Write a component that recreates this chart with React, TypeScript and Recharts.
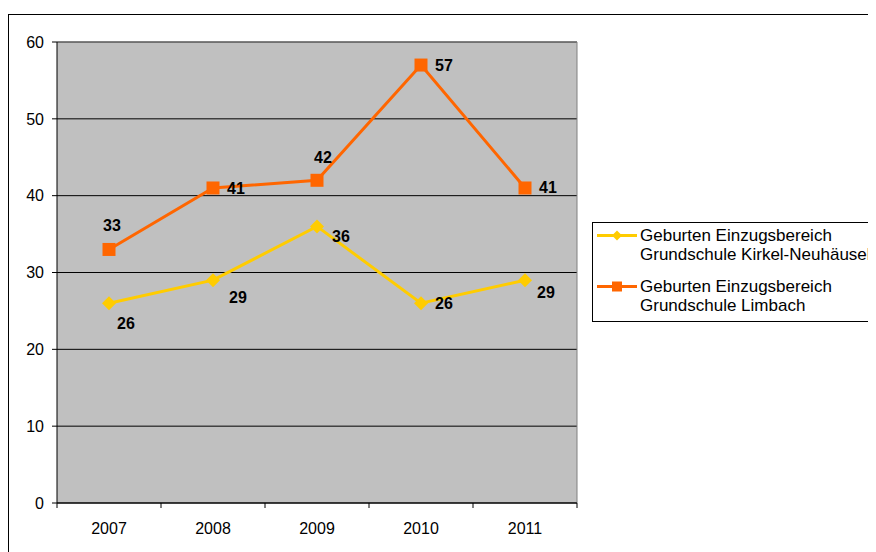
import React from 'react';
import { LineChart, Line, XAxis, YAxis, CartesianGrid, ReferenceLine, Legend } from 'recharts';

const categories = ['2007', '2008', '2009', '2010', '2011'];
const kirkel = [26, 29, 36, 26, 29];
const limbach = [33, 41, 42, 57, 41];
const yTicks = [0, 10, 20, 30, 40, 50, 60];
const seriesNames = [
  ['Geburten Einzugsbereich', 'Grundschule Kirkel-Neuhäusel'],
  ['Geburten Einzugsbereich', 'Grundschule Limbach'],
];

// label offsets (style, not data)
const kirkelLabelOffsets = [[17, 20], [25, 17], [24, 10], [23, 0], [21, 12]];
const limbachLabelOffsets = [[3, -24], [23, 1], [6, -23], [23, 0], [23, 0]];

const data = categories.map((c, i) => ({ idx: i, year: c, kirkel: kirkel[i], limbach: limbach[i] }));

const FONT = '"Liberation Sans", Arial, sans-serif';
const YELLOW = '#FFCC00';
const ORANGE = '#FF6600';
const W = 868;
const H = 544;
const M = { top: 34, right: 299, left: 0, bottom: 19 };
const Y_W = 49;
const PLOT_W = W - M.right - Y_W;
const HALF_BAND = PLOT_W / categories.length / 2;

const XTick = (props: any) => {
  const { x, y, payload, index } = props;
  const last = index === categories.length - 1;
  return (
    <g>
      <line x1={x - HALF_BAND} x2={x - HALF_BAND} y1={y} y2={y + 5} stroke="#000" />
      {last && <line x1={x + HALF_BAND} x2={x + HALF_BAND} y1={y} y2={y + 5} stroke="#000" />}
      <text x={x} y={y + 25} textAnchor="middle" dominantBaseline="central" fontSize={16} fontFamily={FONT} fill="#000">
        {categories[payload.value]}
      </text>
    </g>
  );
};

const Diamond = (props: any) => {
  const { cx, cy, index } = props;
  const s = 7;
  return <polygon key={`d${index}`} points={`${cx},${cy - s} ${cx + s},${cy} ${cx},${cy + s} ${cx - s},${cy}`} fill={YELLOW} />;
};

const Square = (props: any) => {
  const { cx, cy, index } = props;
  const s = 6.5;
  return <rect key={`s${index}`} x={cx - s} y={cy - s} width={2 * s} height={2 * s} fill={ORANGE} />;
};

const makeLabel = (offsets: number[][]) => (props: any) => {
  const { x, y, value, index } = props;
  const [dx, dy] = offsets[index];
  return (
    <text key={`l${index}`} x={x + dx} y={y + dy} textAnchor="middle" dominantBaseline="central" fontSize={16} fontWeight="bold" fontFamily={FONT} fill="#000">
      {value}
    </text>
  );
};

const LegendBox = () => {
  const entries = [
    { color: YELLOW, shape: 'diamond', lines: seriesNames[0] },
    { color: ORANGE, shape: 'square', lines: seriesNames[1] },
  ];
  return (
    <div style={{ border: '1px solid #000', width: 320, paddingTop: 3, paddingBottom: 6, paddingLeft: 4, background: '#fff', fontFamily: FONT, fontSize: 17, lineHeight: '19px', color: '#000', boxSizing: 'border-box' }}>
      {entries.map((e, i) => (
        <div key={i} style={{ display: 'flex', alignItems: 'flex-start', marginTop: i === 0 ? 0 : 13 }}>
          <svg width={40} height={19} style={{ flex: 'none' }}>
            <line x1={0} x2={40} y1={9.5} y2={9.5} stroke={e.color} strokeWidth={3} />
            {e.shape === 'diamond' ? (
              <polygon points="20,4.5 25,9.5 20,14.5 15,9.5" fill={e.color} />
            ) : (
              <rect x={15} y={4.5} width={10} height={10} fill={e.color} />
            )}
          </svg>
          <div style={{ marginLeft: 3, whiteSpace: 'nowrap' }}>
            {e.lines.map((t, j) => (
              <div key={j}>{t}</div>
            ))}
          </div>
        </div>
      ))}
    </div>
  );
};

export default function App() {
  return (
    <div style={{ position: 'relative', width: W, height: H }}>
      <style>{'html{overflow:hidden;}'}</style>
      <div style={{ position: 'absolute', left: 0, top: 6, width: W + 40, height: H, borderTop: '1px solid #000', borderLeft: '1px solid #000', boxSizing: 'border-box' }} />
      <div style={{ position: 'absolute', left: 0, top: 0 }}>
        <LineChart width={W} height={H} data={data} margin={M} style={{ overflow: 'visible' }}>
          <CartesianGrid vertical={false} stroke="#000" strokeWidth={1} fill="#C0C0C0" />
          <ReferenceLine y={60} stroke="#808080" strokeWidth={1} />
          <ReferenceLine x={4.5} stroke="#808080" strokeWidth={1} />
          <XAxis
            dataKey="idx"
            type="number"
            domain={[-0.5, 4.5]}
            ticks={[0, 1, 2, 3, 4]}
            tickLine={false}
            tickSize={0}
            tickMargin={0}
            height={30}
            stroke="#000"
            tick={<XTick />}
            interval={0}
          />
          <YAxis
            domain={[0, 60]}
            ticks={yTicks}
            width={Y_W}
            tickSize={5}
            tickMargin={8}
            stroke="#000"
            tick={{ fill: '#000', fontSize: 16, fontFamily: FONT }}
            interval={0}
          />
          <Legend layout="vertical" align="center" verticalAlign="middle" wrapperStyle={{ position: 'absolute', left: 584, top: 214, width: 320 }} content={() => <LegendBox />} />
          <Line dataKey="kirkel" stroke={YELLOW} strokeWidth={3} dot={<Diamond />} activeDot={false} isAnimationActive={false} label={makeLabel(kirkelLabelOffsets)} />
          <Line dataKey="limbach" stroke={ORANGE} strokeWidth={3} dot={<Square />} activeDot={false} isAnimationActive={false} label={makeLabel(limbachLabelOffsets)} />
        </LineChart>
      </div>
    </div>
  );
}
